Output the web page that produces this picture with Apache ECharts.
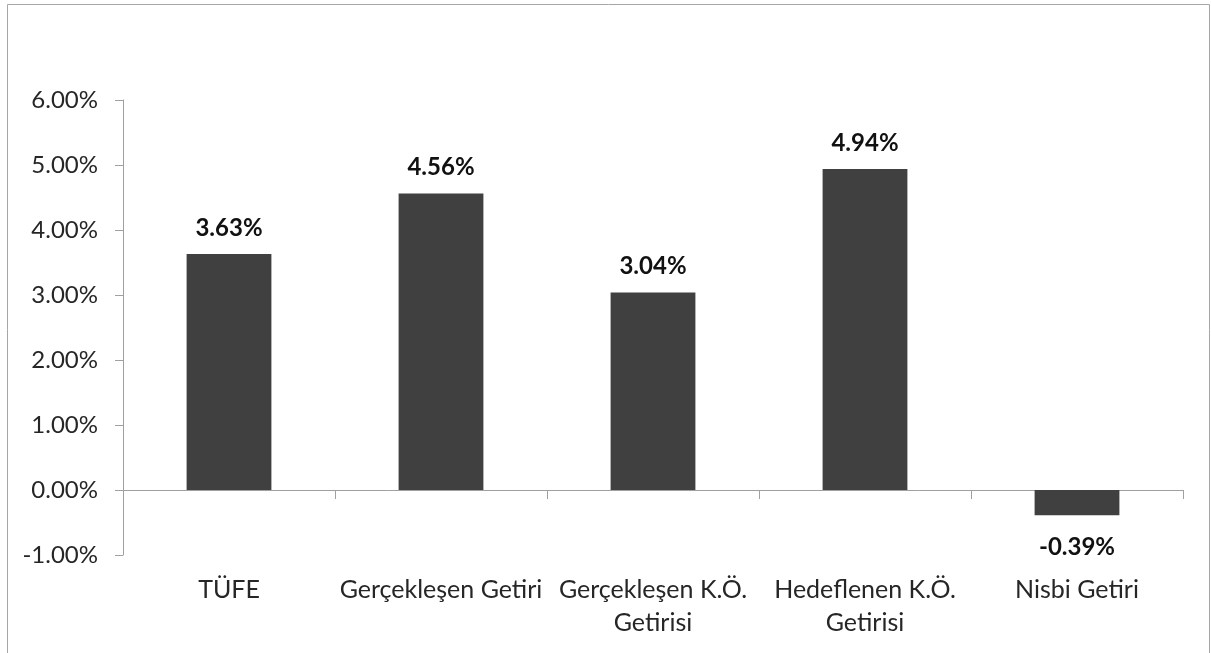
<!DOCTYPE html>
<html><head><meta charset="utf-8">
<script src="https://cdn.jsdelivr.net/npm/echarts@6/dist/echarts.min.js"></script>
<style>html,body{margin:0;padding:0;background:#fff}#c{width:1211px;height:653px}</style>
</head><body><div id="c"></div>
<script>
var categories = ['TÜFE', 'Gerçekleşen Getiri', 'Gerçekleşen K.Ö.\nGetirisi', 'Hedeflenen K.Ö.\nGetirisi', 'Nisbi Getiri'];
var values = [3.63, 4.56, 3.04, 4.94, -0.39];
var yMin = -1, yMax = 6, yStep = 1;
var FONT = 'Lato';
var chart = echarts.init(document.getElementById('c'));
chart.setOption({
  animation: false,
  graphic: [{type:'rect', shape:{x:7.5,y:4.5,width:1202,height:700}, style:{fill:'none', stroke:'#a6a6a6', lineWidth:1}, silent:true}],
  grid: {left:123, right:28, top:100, bottom:98, containLabel:false, outerBoundsMode:'none'},
  xAxis: {
    type:'category', data:categories,
    axisLine:{onZero:true, lineStyle:{color:'#a0a0a0', width:1}},
    axisTick:{show:true, length:9, alignWithLabel:false, lineStyle:{color:'#a0a0a0'}},
    axisLabel:{margin:18, color:'#262626', fontFamily:FONT, fontSize:25, lineHeight:33, interval:0}
  },
  yAxis: {
    type:'value', min:yMin, max:yMax, interval:yStep,
    axisLine:{show:true, lineStyle:{color:'#a0a0a0'}},
    axisTick:{show:true, length:8, lineStyle:{color:'#a0a0a0'}},
    splitLine:{show:false},
    axisLabel:{margin:25, color:'#262626', fontFamily:FONT, fontSize:24, formatter:function(v){return v.toFixed(2)+'%';}}
  },
  series: [{
    type:'bar', barWidth:'40%',
    data: values.map(function(v){return {value:v, label:{position: v<0?'bottom':'top', distance: v<0?20:14}};}),
    itemStyle:{color:'#404040'},
    label:{show:true, color:'#111', fontFamily:FONT, fontWeight:'bold', fontSize:24, formatter:function(p){return p.value.toFixed(2)+'%';}}
  }]
});
</script></body></html>
